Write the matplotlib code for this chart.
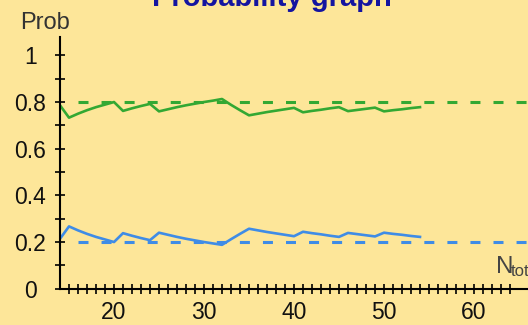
import matplotlib
matplotlib.use("Agg")
import matplotlib.pyplot as plt
import numpy as np

plt.rcParams['font.family'] = ['Liberation Sans', 'DejaVu Sans']
plt.rcParams['lines.scale_dashes'] = False

# data
n_total = list(range(14, 55))
prob_green = [0.786, 0.733, 0.750, 0.765, 0.778, 0.789, 0.800, 0.762, 0.773, 0.783,
              0.792, 0.760, 0.769, 0.778, 0.786, 0.793, 0.800, 0.806, 0.813, 0.788,
              0.765, 0.743, 0.750, 0.757, 0.763, 0.769, 0.775, 0.756, 0.762, 0.767,
              0.773, 0.778, 0.761, 0.766, 0.771, 0.776, 0.760, 0.765, 0.769, 0.774,
              0.778]
prob_blue = [0.214, 0.267, 0.250, 0.235, 0.222, 0.211, 0.200, 0.238, 0.227, 0.217,
             0.208, 0.240, 0.231, 0.222, 0.214, 0.207, 0.200, 0.194, 0.188, 0.212,
             0.235, 0.257, 0.250, 0.243, 0.237, 0.231, 0.225, 0.244, 0.238, 0.233,
             0.227, 0.222, 0.239, 0.234, 0.229, 0.224, 0.240, 0.235, 0.231, 0.226,
             0.222]
ref_green = 0.8
ref_blue = 0.2
x_labels = [20, 30, 40, 50, 60]
y_labels = [0, 0.2, 0.4, 0.6, 0.8, 1]

bg = '#fde699'
green = '#33a833'
blue = '#3f8ce6'

fig = plt.figure(figsize=(5.28, 3.25), dpi=100, facecolor=bg)
ax = fig.add_axes([60/528, 36.3/325, 468/528, 252/325], facecolor=bg)

ax.set_xlim(14, 66)
ax.set_ylim(0, 1.08)

# reference lines
ax.plot([16, 66], [ref_green, ref_green], color=green, lw=2.2,
        linestyle=(0, (7.2, 9.4)), solid_capstyle='butt')
ax.plot([16, 66], [ref_blue, ref_blue], color=blue, lw=2.2,
        linestyle=(0, (7.2, 9.4)), solid_capstyle='butt')

ax.plot(n_total, prob_green, color=green, lw=1.9)
ax.plot(n_total, prob_blue, color=blue, lw=1.9)

for s in ['top', 'right']:
    ax.spines[s].set_visible(False)
for s in ['left', 'bottom']:
    ax.spines[s].set_linewidth(1.5)
    ax.spines[s].set_color('black')

ax.set_xticks(x_labels)
ax.set_xticks(np.arange(15, 65), minor=True)
ax.set_yticks(y_labels)
ax.set_yticks(np.arange(0.1, 1.01, 0.2), minor=True)
ax.set_xticklabels([str(v) for v in x_labels])
ax.set_yticklabels(['0', '0.2', '0.4', '0.6', '0.8', '1'])

ax.tick_params(axis='both', which='both', direction='inout', length=7,
               width=1.2, color='black')
ax.tick_params(axis='x', which='major', labelsize=16.5, pad=5.5, labelcolor='#111111')
ax.tick_params(axis='y', which='major', labelsize=16.5, pad=18, labelcolor='#111111')
for lbl in ax.get_yticklabels():
    lbl.set_horizontalalignment('center')

fig.text(272/528, 1 - 6/325, 'Probability graph', color='#1414a0', fontsize=21,
         fontweight='bold', ha='center', va='baseline')
fig.text(20/528, 1 - 29/325, 'Prob', color='#333333', fontsize=17,
         ha='left', va='baseline')
fig.text(496/528, 1 - 273/325, 'N', color='#444444', fontsize=17.5,
         ha='left', va='baseline')
fig.text(511/528, 1 - 276/325, 'total', color='#444444', fontsize=12,
         ha='left', va='baseline')

fig.savefig('out.png', dpi=100, facecolor=bg)
